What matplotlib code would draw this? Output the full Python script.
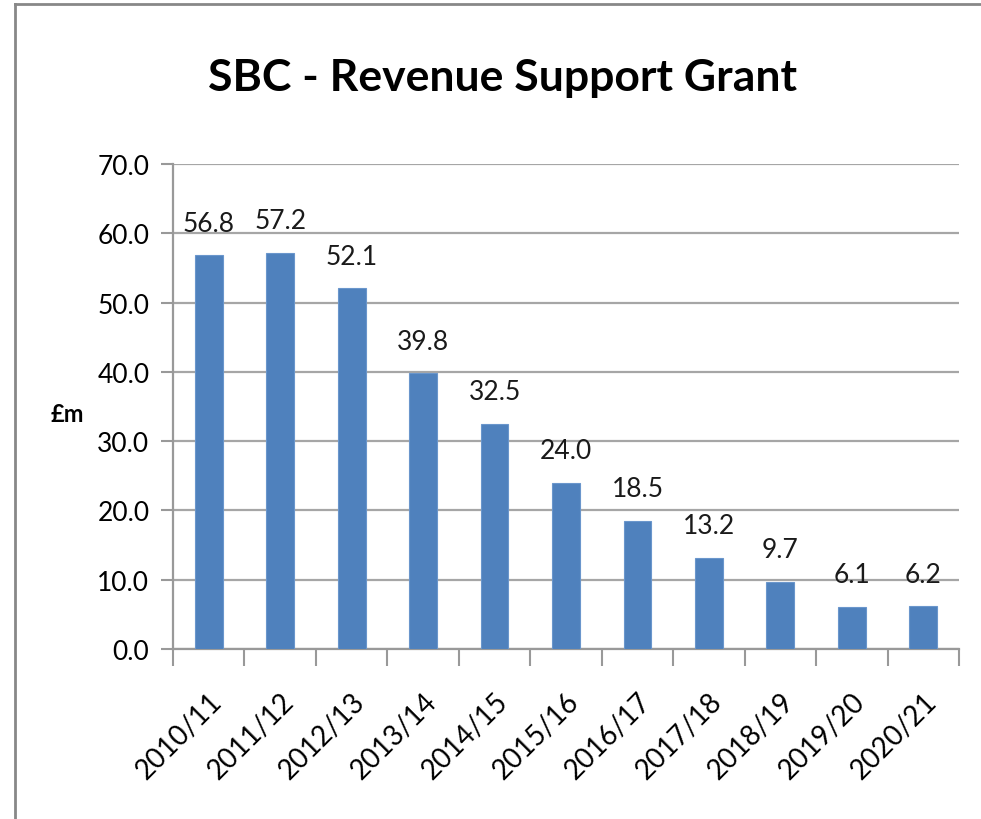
import matplotlib.pyplot as plt
from matplotlib.lines import Line2D

years = ['2010/11', '2011/12', '2012/13', '2013/14', '2014/15', '2015/16',
         '2016/17', '2017/18', '2018/19', '2019/20', '2020/21']
grant = [56.8, 57.2, 52.1, 39.8, 32.5, 24.0, 18.5, 13.2, 9.7, 6.1, 6.2]

plt.rcParams['font.family'] = ['Lato', 'DejaVu Sans']

fig = plt.figure(figsize=(9.81, 8.20), dpi=100)
# axes box in pixels: x 173..959, y 165..650
ax = fig.add_axes([173 / 981, 1 - 650 / 820, (959 - 173) / 981, (650 - 165) / 820])

x = range(len(years))
ax.bar(x, grant, width=0.39, color='#4F81BD', edgecolor='#6A96CC', linewidth=0.8, zorder=3)

for i, v in enumerate(grant):
    ax.annotate('%.1f' % v, (i, v), xytext=(0, 14), textcoords='offset points',
                ha='center', va='bottom', fontsize=19, color='#1a1a1a')

ax.set_xlim(-0.5, len(years) - 0.5)
ax.set_ylim(0, 70)
ax.set_yticks(range(0, 71, 10))
ax.set_yticklabels(['%.1f' % t for t in range(0, 71, 10)], fontsize=19)
ax.yaxis.grid(True, color='#A6A6A6', linewidth=1.6, zorder=0)

ax.set_xticks([i + 0.5 for i in range(-1, len(years))], minor=False)
ax.set_xticklabels([])
ax.set_xticks(list(x), minor=True)
ax.set_xticklabels(years, minor=True, rotation=45, ha='right', va='top',
                   rotation_mode='anchor', fontsize=20)
ax.tick_params(axis='x', which='major', length=12, width=1.5, color='#999999', direction='out')
ax.tick_params(axis='x', which='minor', length=0, pad=28)
ax.tick_params(axis='y', length=9, width=1.5, color='#999999', pad=8)

for s in ['top', 'right']:
    ax.spines[s].set_visible(False)
for s in ['left', 'bottom']:
    ax.spines[s].set_color('#999999')
    ax.spines[s].set_linewidth(1.6)

fig.text(67 / 981, 1 - 415 / 820, '£m', fontsize=17, fontweight='bold', ha='center', va='center')
fig.text(502 / 981, 1 - 78 / 820, 'SBC - Revenue Support Grant', fontsize=32,
         fontweight='bold', ha='center', va='center')

# chart border (left and top edges visible)
fig.add_artist(Line2D([15 / 981, 15 / 981], [0, 1 - 5 / 820], transform=fig.transFigure,
                      color='#888888', linewidth=2))
fig.add_artist(Line2D([15 / 981, 1], [1 - 5 / 820, 1 - 5 / 820], transform=fig.transFigure,
                      color='#888888', linewidth=2))

fig.savefig('out.png', dpi=100)
